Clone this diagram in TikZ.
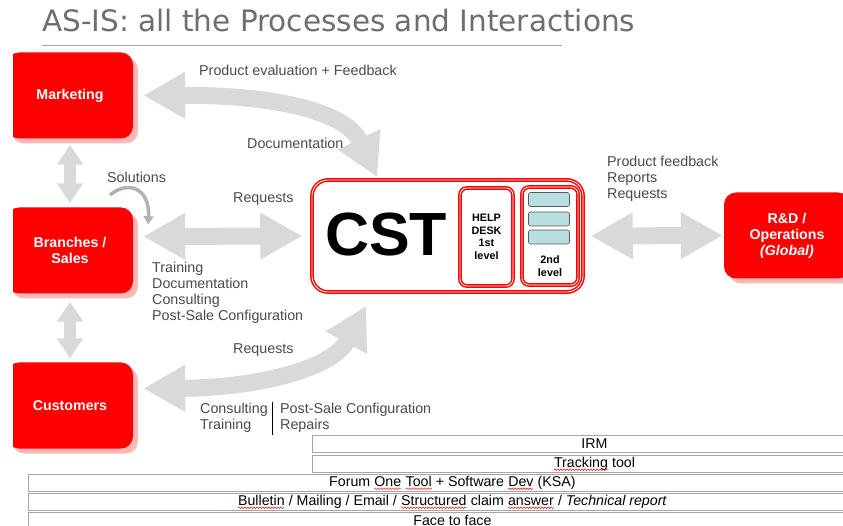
\documentclass[tikz,border=0pt]{standalone}
\usepackage{fontspec}
\setmainfont{Liberation Sans}
\newfontfamily\titlefont{DejaVu Sans}
\usetikzlibrary{arrows.meta,shadows,decorations.pathmorphing}
\definecolor{cstred}{HTML}{FF0000}
\definecolor{shadowpink}{HTML}{FFB8B8}
\definecolor{flowgray}{HTML}{D9D9D9}
\definecolor{lblgray}{HTML}{4A4A4A}
\definecolor{titlegray}{HTML}{6E6E6E}
\definecolor{rulegray}{HTML}{A6A6A6}
\definecolor{tierblue}{HTML}{B8DEE2}
\newcommand{\spellwave}[1]{\tikz[baseline=(w.base)]{\node[inner sep=0pt,outer sep=0pt,minimum width=0pt,
    minimum height=0pt,draw=none,fill=none,anchor=center,text=black] (w) {#1};
  \draw[red,fill=none,line width=0.45pt,decorate,decoration={snake,amplitude=0.8pt,segment length=3pt}]
    ([yshift=-2.4pt]w.base west) -- ([yshift=-2.4pt]w.base east);}}

\begin{document}
\begin{tikzpicture}[x=1pt,y=-1pt,
    unit/.style={fill=cstred,rounded corners=12pt,minimum width=126pt,minimum height=86pt,align=center,text=white,
      font=\fontsize{14.2}{16}\selectfont\bfseries,general shadow={fill=shadowpink,shadow xshift=5pt,shadow yshift=-5pt}},
    lbl/.style={inner sep=0pt,align=left,text=lblgray,font=\fontsize{14.3}{16}\selectfont},
    flow/.style={draw=flowgray,line width=17pt,{Triangle[length=42pt,width=44pt]}-{Triangle[length=42pt,width=44pt]}},
    link/.style={draw=flowgray,line width=12pt,{Triangle[length=20pt,width=25pt]}-{Triangle[length=20pt,width=25pt]}},
    redframe/.style={draw=cstred,double=white,double distance=0.8pt,line width=1.5pt,rounded corners=7pt},
    slot/.style={draw=black!65,fill=tierblue,rounded corners=2pt,minimum width=41pt,minimum height=14pt,inner sep=0pt,line width=0.6pt},
    tier/.style={draw=rulegray,line width=0.8pt,fill=white,minimum height=17pt,inner sep=0pt,anchor=north west,
      font=\fontsize{14.2}{16}\selectfont}]
  \useasboundingbox (0,0) rectangle (843,526);
  \clip (13,0) rectangle (843,526);

  % title
  \node[anchor=base west,inner sep=0pt,text=titlegray,font=\titlefont\fontsize{29.5}{32}\selectfont] (title) at (42,32)
    {AS-IS: all the Processes and Interactions};
  \draw[rulegray,line width=1pt] (42,46) -- (562,46);

  % units
  \node[unit] (mkt) at (70,95.5) {Marketing};
  \node[unit] (brn) at (70,250.5) {Branches /\\Sales};
  \node[unit] (cus) at (70,405.5) {Customers};
  \node[unit] (rnd) at (787,235.5) {R\&D /\\Operations\\\textit{(Global)}};

  % CST with its two levels
  \node[redframe,rounded corners=16pt,minimum width=271pt,minimum height=112pt] (cst) at (447.5,236) {};
  \node[inner sep=0pt,font=\fontsize{61}{61}\selectfont\bfseries] (csttxt) at (386,235) {CST};
  \node[redframe,minimum width=53pt,minimum height=98pt,align=center,
    font=\fontsize{10.8}{12.5}\selectfont\bfseries] (help) at (486.5,237) {HELP\\DESK\\1st\\level};
  \node[redframe,minimum width=56pt,minimum height=98pt] (second) at (550,236) {};
  \foreach \i/\yy in {1/199.5,2/219,3/237}
    \node[slot] (slot\i) at (549,\yy) {};
  \node[align=center,inner sep=0pt,font=\fontsize{10.8}{12.5}\selectfont\bfseries] (secondlbl) at (550,266) {2nd\\level};

  % flows
  \draw[flow,shorten <=10pt] (mkt.east) .. controls (270,95) and (345,110) .. ([xshift=66pt,yshift=2pt]cst.north west);
  \draw[flow,shorten <=10pt,shorten >=9pt] ([yshift=14pt]brn.east) -- (cst.west);
  \draw[flow,shorten <=10pt] ([yshift=17pt]cus.east) .. controls (250,388) and (331,371) .. ([xshift=55pt,yshift=-13pt]cst.south west);
  \draw[flow,shorten <=7pt,shorten >=1pt] (cst.east) -- (rnd.west);
  \draw[link,shorten <=6pt,shorten >=4pt] (mkt.south) -- (brn.north);
  \draw[link,shorten <=8pt,shorten >=4pt] (brn.south) -- (cus.north);
  \coordinate (solstart) at (110,195);
  \draw[gray!60,line width=3.5pt,-{Triangle[length=8pt,width=10pt]}] (solstart)
    .. controls (128,180) and (150,188) .. ([xshift=15pt,yshift=-17pt]brn.north east);

  % labels
  \node[lbl,anchor=west] (evalLbl) at (199,70) {Product evaluation + Feedback};
  \node[lbl,anchor=west] (docLbl) at (247,143) {Documentation};
  \node[lbl,anchor=west] (solLbl) at (107,177) {Solutions};
  \node[lbl,anchor=west] (reqTop) at (233,199) {Requests};
  \node[lbl,anchor=north west] (brnLbl) at (152,262) {Training\\Documentation\\Consulting\\Post-Sale Configuration};
  \node[lbl,anchor=west] (reqLow) at (233,350) {Requests};
  \node[lbl,anchor=north west] (cusLbl) at (200,403) {Consulting\\Training};
  \node[lbl,anchor=north west] (cusLbl2) at (280,403) {Post-Sale Configuration\\Repairs};
  \draw[line width=0.8pt] (272,402) -- (272,435);
  \node[lbl,anchor=north west] (rndLbl) at (607,156) {Product feedback\\Reports\\Requests};

  % tools
  \node[tier,minimum width=564pt] (irm) at (312,435) {IRM};
  \node[tier,minimum width=564pt] (track) at (312,455) {\spellwave{Tracking} tool};
  \node[tier,minimum width=848pt] (forum) at (28,474) {Forum \spellwave{One} \spellwave{Tool} + Software \spellwave{Dev} (KSA)};
  \node[tier,minimum width=848pt] (bulletin) at (28,493)
    {\spellwave{Bulletin} / Mailing / Email / \spellwave{Structured} claim \spellwave{answer} / \textit{Technical report}};
  \node[tier,minimum width=848pt] (face) at (28,512) {Face to face};
\end{tikzpicture}
\end{document}
